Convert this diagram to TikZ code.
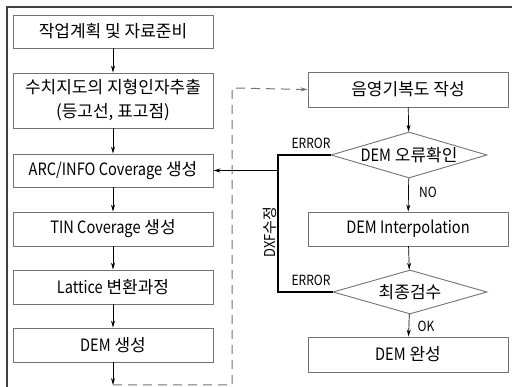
\documentclass[tikz,border=0pt]{standalone}
\usepackage{fontspec}
\setmainfont{Noto Sans CJK KR}
\usetikzlibrary{shapes.geometric,arrows.meta}
\newcommand{\lat}[1]{\scalebox{0.86}[1]{#1}}
\begin{document}
\begin{tikzpicture}[x=1pt,y=-1pt,
  boxst/.style={draw=black!55,line width=0.9pt,minimum width=200,inner sep=0pt,font=\fontsize{17}{24}\selectfont,align=center},
  diamst/.style={draw=black!55,line width=0.9pt,diamond,inner sep=0pt,font=\fontsize{17}{24}\selectfont},
  conn/.style={line width=0.7pt,-{Stealth[length=7pt,width=4pt]}},
  errline/.style={line width=1.1pt},
  dashst/.style={draw=black!55,line width=1pt,dash pattern=on 9pt off 6pt},
  lab/.style={font=\fontsize{14}{16}\selectfont,inner sep=0pt}]
\useasboundingbox (0,0) rectangle (512,387);
\draw[line width=1.2pt,black!75] (512,7) -- (7,7) -- (7,387);
% left column
\node[boxst,minimum height=33] (b1) at (113,31.5) {작업계획 및 자료준비};
\node[boxst,minimum height=55] (b2) at (113,100.5) {수치지도의 지형인자추출\\(등고선, 표고점)};
\node[boxst,minimum height=33] (b3) at (113,170.5) {\lat{ARC/INFO Coverage} 생성};
\node[boxst,minimum height=34] (b4) at (113,229) {\lat{TIN Coverage} 생성};
\node[boxst,minimum height=34] (b5) at (113,287) {\lat{Lattice} 변환과정};
\node[boxst,minimum height=34] (b6) at (113,345) {\lat{DEM} 생성};
% right column
\node[boxst,minimum height=35] (r1) at (408,89.5) {음영기복도 작성};
\node[diamst,minimum width=156,minimum height=46] (d1) at (409,155) {\makebox[0pt]{\lat{DEM} 오류확인}};
\node[boxst,minimum height=34] (r2) at (408,229) {\lat{DEM Interpolation}};
\node[diamst,minimum width=154,minimum height=44] (d2) at (410,292) {\makebox[0pt]{최종검수}};
\node[boxst,minimum height=35] (r3) at (408,354.5) {\lat{DEM} 완성};
% arrows left
\draw[conn] (b1) -- (b2);
\draw[conn] (b2) -- (b3);
\draw[conn] (b3) -- (b4);
\draw[conn] (b4) -- (b5);
\draw[conn] (b5) -- (b6);
% arrows right
\draw[conn] (r1) -- (d1);
\draw[conn] (d1) -- (r2);
\draw[conn] (r2) -- (d2);
\draw[conn] (d2) -- (r3);
% error loop
\coordinate (c1) at (278,155);
\coordinate (c2) at (278,292);
\coordinate (c3) at (278,170.5);
\draw[errline] (d1.west) -- (c1) -- (c2) -- (d2.west);
\draw[conn,line width=1.1pt] (c3) -- (b3.east);
% dashed loop
\coordinate (e1) at (113,385);
\coordinate (e2) at (232,385);
\coordinate (e3) at (232,88);
\draw[conn] (b6) -- (e1);
\draw[dashst,-{Stealth[length=7pt,width=4pt,fill=black]}] (e1) -- (e2) -- (e3) -- (r1.west);
% labels
\node[lab] (l1) at (311,143) {\lat{ERROR}};
\node[lab] (l2) at (311,280) {\lat{ERROR}};
\node[lab] (l3) at (428,192) {\lat{NO}};
\node[lab] (l4) at (426,326) {\lat{OK}};
\node[lab,rotate=90,font=\fontsize{15}{17}\selectfont] (l5) at (270,232) {\lat{DXF}수정};
\end{tikzpicture}
\end{document}
